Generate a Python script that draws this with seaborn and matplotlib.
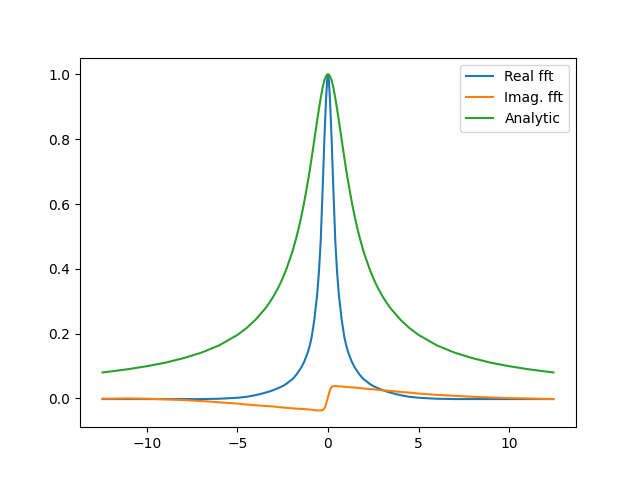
import numpy as np
import matplotlib
matplotlib.use("Agg")
import matplotlib.pyplot as plt
import seaborn as sns

# frequency grid (denser near the peak)
omega = [-12.45, -11.0, -10.0, -9.0, -8.0, -7.0, -6.0, -5.0, -4.5, -4.0,
         -3.5, -3.25, -3.0, -2.7, -2.5, -2.3, -2.0, -1.9, -1.75, -1.6,
         -1.45, -1.3, -1.1, -1.0, -0.9, -0.75,
         -0.6, -0.5, -0.4, -0.3, -0.25, -0.2, -0.15, -0.1, -0.05, 0.0,
         0.05, 0.1, 0.15, 0.2, 0.25, 0.3, 0.4, 0.5, 0.6, 0.75,
         0.9, 1.0, 1.1, 1.3, 1.45, 1.6, 1.75, 1.9, 2.0, 2.3,
         2.5, 2.7, 3.0, 3.25, 3.5, 4.0,
         4.5, 5.0, 6.0, 7.0, 8.0, 9.0, 10.0, 11.0, 12.45]

real_fft = [-0.002, -0.002, -0.002, -0.002, -0.002, -0.002, -0.001, 0.002, 0.005, 0.010,
            0.017, 0.021, 0.026, 0.033, 0.038, 0.045, 0.058, 0.063, 0.073, 0.085,
            0.098, 0.115, 0.145, 0.165, 0.19, 0.245,
            0.32, 0.39, 0.49, 0.64, 0.72, 0.80, 0.87, 0.93, 0.98, 1.0,
            0.98, 0.93, 0.87, 0.80, 0.72, 0.64, 0.49, 0.39, 0.32, 0.245,
            0.19, 0.165, 0.145, 0.115, 0.098, 0.085, 0.073, 0.063, 0.058, 0.045,
            0.038, 0.033, 0.026, 0.021, 0.017, 0.010,
            0.005, 0.002, -0.001, -0.002, -0.002, -0.002, -0.002, -0.002, -0.002]

imag_fft = [-0.001, 0.000, -0.001, -0.003, -0.005, -0.008, -0.012, -0.016, -0.019, -0.021,
            -0.023, -0.024, -0.025, -0.027, -0.028, -0.029, -0.0305, -0.031, -0.0315, -0.032,
            -0.0325, -0.033, -0.034, -0.0345, -0.035, -0.036,
            -0.037, -0.037, -0.037, -0.036, -0.034, -0.031, -0.025, -0.016, -0.006, 0.004,
            0.014, 0.024, 0.031, 0.035, 0.037, 0.038, 0.038, 0.038, 0.037, 0.037,
            0.036, 0.0355, 0.035, 0.034, 0.0335, 0.033, 0.032, 0.031, 0.0305, 0.029,
            0.028, 0.027, 0.025, 0.024, 0.023, 0.020,
            0.018, 0.015, 0.011, 0.008, 0.005, 0.003, 0.001, 0.000, -0.002]

analytic = [0.080, 0.0905, 0.0995, 0.110, 0.124, 0.141, 0.164, 0.196, 0.217, 0.243,
            0.275, 0.294, 0.316, 0.347, 0.371, 0.399, 0.447, 0.466, 0.496, 0.530,
            0.568, 0.610, 0.673, 0.707, 0.743, 0.800,
            0.857, 0.894, 0.928, 0.958, 0.970, 0.981, 0.989, 0.995, 0.999, 1.0,
            0.999, 0.995, 0.989, 0.981, 0.970, 0.958, 0.928, 0.894, 0.857, 0.800,
            0.743, 0.707, 0.673, 0.610, 0.568, 0.530, 0.496, 0.466, 0.447, 0.399,
            0.371, 0.347, 0.316, 0.294, 0.275, 0.243,
            0.217, 0.196, 0.164, 0.141, 0.124, 0.110, 0.0995, 0.0905, 0.080]

colors = sns.color_palette("tab10", 3)

fig, ax = plt.subplots(figsize=(6.4, 4.8), dpi=100)

x = np.array(omega)
sns.lineplot(x=x, y=np.array(real_fft), ax=ax, color=colors[0], label="Real fft", linewidth=1.5)
sns.lineplot(x=x, y=np.array(imag_fft), ax=ax, color=colors[1], label="Imag. fft", linewidth=1.5)
sns.lineplot(x=x, y=np.array(analytic), ax=ax, color=colors[2], label="Analytic", linewidth=1.5)

ax.set_xlabel("")
ax.set_ylabel("")
ax.legend(loc="upper right")

fig.savefig("out.png", dpi=100)
